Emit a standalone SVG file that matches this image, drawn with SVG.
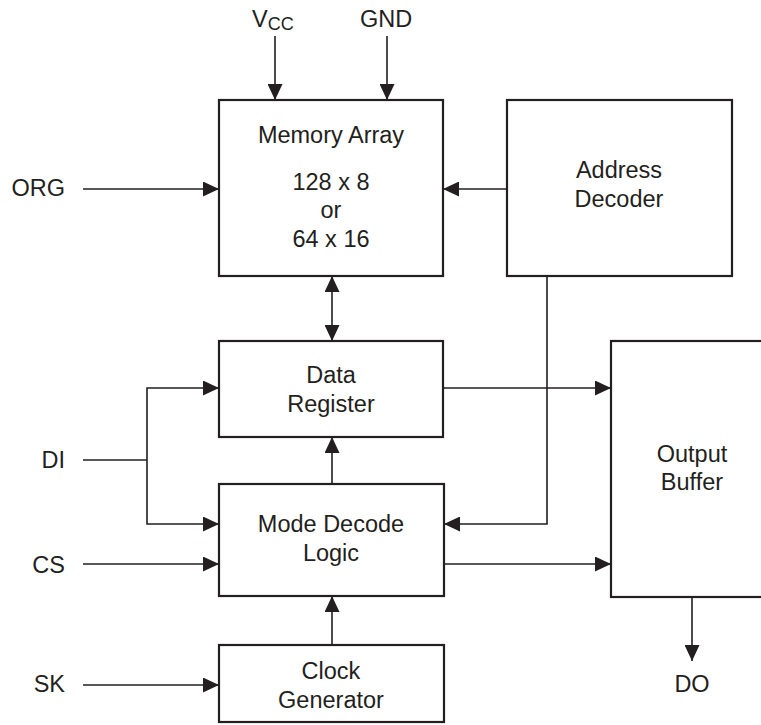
<svg xmlns="http://www.w3.org/2000/svg" width="761" height="725" viewBox="0 0 761 725">
<defs>
<marker id="ah" markerUnits="userSpaceOnUse" markerWidth="16" markerHeight="15" refX="16" refY="7.5" orient="auto-start-reverse" viewBox="0 0 16 15">
<path d="M0,0 L16,7.5 L0,15 z" fill="#231f20"/>
</marker>
<style>
.box{fill:#fff;stroke:#231f20;stroke-width:2.2}
.ln{fill:none;stroke:#231f20;stroke-width:1.6}
.arr{fill:none;stroke:#231f20;stroke-width:1.6;marker-end:url(#ah)}
text{font-family:"Liberation Sans",Arial,sans-serif;font-size:23.5px;fill:#231f20}
.c{text-anchor:middle}
.r{text-anchor:end}
</style>
</defs>
<rect width="761" height="725" fill="#fff"/>
<g id="connectors">
<path class="arr" d="M275,36 V100"/>
<path class="arr" d="M387,36 V100"/>
<path class="arr" d="M83,189 H219"/>
<path class="arr" d="M507,189 H443"/>
<path class="arr" d="M332,276 V341" style="marker-start:url(#ah)"/>
<path class="arr" d="M443,388 H611"/>
<path class="ln" d="M83,460 H147"/>
<path class="arr" d="M147,460 V388 H219"/>
<path class="arr" d="M147,460 V524 H219"/>
<path class="arr" d="M83,564 H219"/>
<path class="arr" d="M83,685 H219"/>
<path class="arr" d="M332,484 V437"/>
<path class="arr" d="M332,645 V596"/>
<path class="arr" d="M547,276 V524 H444"/>
<path class="arr" d="M444,564 H611"/>
<path class="arr" d="M692,597 V661"/>
</g>
<g id="memory-array">
<rect class="box" x="219" y="100" width="224" height="176"/>
<text class="c" x="331" y="143">Memory Array</text>
<text class="c" x="331" y="190">128 x 8</text>
<text class="c" x="331" y="218">or</text>
<text class="c" x="331" y="247">64 x 16</text>
</g>
<g id="address-decoder">
<rect class="box" x="507" y="100" width="225" height="176"/>
<text class="c" x="619" y="178">Address</text>
<text class="c" x="619" y="207">Decoder</text>
</g>
<g id="data-register">
<rect class="box" x="219" y="341" width="224" height="96"/>
<text class="c" x="331" y="383">Data</text>
<text class="c" x="331" y="412">Register</text>
</g>
<g id="mode-decode-logic">
<rect class="box" x="219" y="484" width="225" height="112"/>
<text class="c" x="331" y="532">Mode Decode</text>
<text class="c" x="331" y="561">Logic</text>
</g>
<g id="clock-generator">
<rect class="box" x="219" y="645" width="225" height="77"/>
<text class="c" x="331" y="679">Clock</text>
<text class="c" x="331" y="708">Generator</text>
</g>
<g id="output-buffer">
<rect class="box" x="611" y="341" width="170" height="256"/>
<text class="c" x="692" y="462">Output</text>
<text class="c" x="692" y="490">Buffer</text>
</g>
<g id="labels">
<text x="252" y="27">V<tspan font-size="18" dy="3">CC</tspan></text>
<text class="c" x="386" y="27">GND</text>
<text class="r" x="65" y="196">ORG</text>
<text class="r" x="65" y="468">DI</text>
<text class="r" x="65" y="573">CS</text>
<text class="r" x="65" y="692">SK</text>
<text class="c" x="692" y="692">DO</text>
</g>
</svg>
